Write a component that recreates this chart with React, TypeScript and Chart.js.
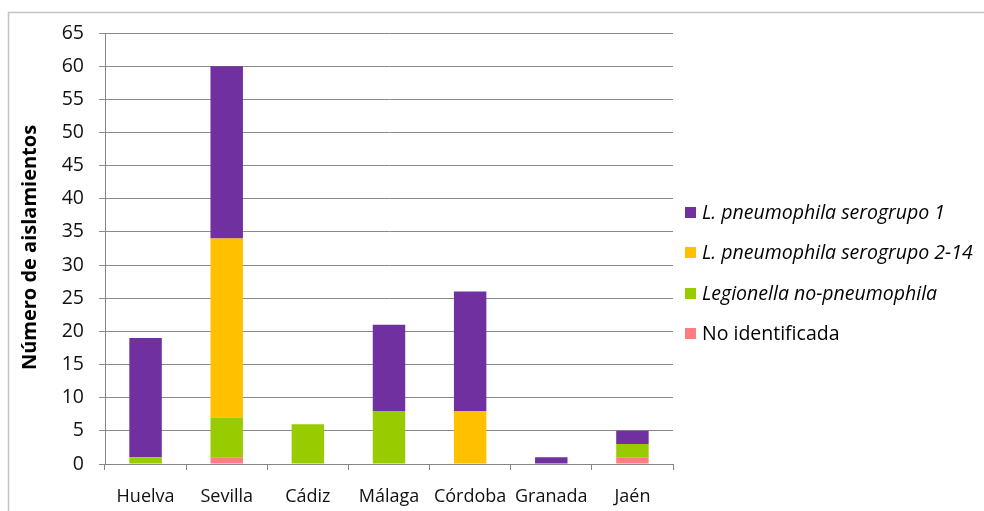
import { useEffect, useRef } from 'react';
import { Chart, registerables } from 'chart.js';

Chart.register(...registerables);

// Provinces on the category axis
const categories = ['Huelva', 'Sevilla', 'Cádiz', 'Málaga', 'Córdoba', 'Granada', 'Jaén'];

// Isolates per province, one array per group (stacked bottom to top)
const noIdentificada = [0, 1, 0, 0, 0, 0, 1];
const legionellaNoPneumophila = [1, 6, 6, 8, 0, 0, 2];
const serogrupo2a14 = [0, 27, 0, 0, 8, 0, 0];
const serogrupo1 = [18, 26, 0, 13, 18, 1, 2];

const seriesNames = [
  'No identificada',
  'Legionella no-pneumophila',
  'L. pneumophila serogrupo 2-14',
  'L. pneumophila serogrupo 1',
];
const seriesItalic = [false, true, true, true];
const seriesColors = ['#FF7C80', '#99CC00', '#FFC000', '#7030A0'];

const yAxisTitle = 'Número de aislamientos';
const yMin = 0;
const yMax = 65;
const yStep = 5;

const FONT = '"Open Sans", "Noto Sans", sans-serif';

const decorPlugin = {
  id: 'decor',
  beforeDraw(chart: any) {
    const ctx = chart.ctx;
    ctx.save();
    // outer frame (top and left edges visible)
    ctx.strokeStyle = '#c4c4c4';
    ctx.lineWidth = 1.5;
    ctx.beginPath();
    ctx.moveTo(8.5, chart.height);
    ctx.lineTo(8.5, 12.5);
    ctx.lineTo(chart.width, 12.5);
    ctx.stroke();
    ctx.restore();
  },
  afterDraw(chart: any) {
    const ctx = chart.ctx;
    const area = chart.chartArea;
    ctx.save();
    // rotated y-axis title
    ctx.translate(30, (area.top + area.bottom) / 2 - 1);
    ctx.rotate(-Math.PI / 2);
    ctx.fillStyle = '#000';
    ctx.font = `bold 20px ${FONT}`;
    ctx.textAlign = 'center';
    ctx.textBaseline = 'middle';
    ctx.fillText(yAxisTitle, 0, 0);
    ctx.restore();

    // legend, top series first
    ctx.save();
    const x0 = area.right + 12;
    const rowY = [212, 252, 293, 333];
    for (let i = 0; i < 4; i++) {
      const s = 3 - i;
      const y = rowY[i];
      ctx.fillStyle = seriesColors[s];
      ctx.fillRect(x0, y - 5, 11, 11);
      ctx.fillStyle = '#000';
      ctx.font = `${seriesItalic[s] ? 'italic ' : ''}19.5px ${FONT}`;
      ctx.textAlign = 'left';
      ctx.textBaseline = 'middle';
      ctx.fillText(seriesNames[s], x0 + 17, y + 1);
    }
    ctx.restore();
  },
};

export default function App() {
  const canvasRef = useRef<HTMLCanvasElement | null>(null);

  useEffect(() => {
    const canvas = canvasRef.current;
    if (!canvas) return;
    const seriesData = [noIdentificada, legionellaNoPneumophila, serogrupo2a14, serogrupo1];
    const chart = new Chart(canvas, {
      type: 'bar',
      data: {
        labels: categories,
        datasets: seriesData.map((d, i) => ({
          label: seriesNames[i],
          data: d,
          backgroundColor: seriesColors[i],
          borderWidth: 0,
          barPercentage: 0.4,
          categoryPercentage: 1,
        })),
      },
      options: {
        animation: false,
        responsive: true,
        maintainAspectRatio: false,
        layout: { padding: { left: 0, top: 33, right: 311, bottom: 0 } },
        plugins: {
          legend: { display: false },
          tooltip: { enabled: false },
        },
        scales: {
          x: {
            stacked: true,
            grid: {
              drawOnChartArea: false,
              drawTicks: true,
              tickLength: 6,
              color: '#868686',
              offset: true,
            },
            border: { color: '#868686', width: 1 },
            ticks: {
              color: '#111',
              font: { family: FONT, size: 18 },
              padding: 16,
            },
            afterFit: (s: any) => {
              s.height = 47;
            },
          },
          y: {
            stacked: true,
            min: yMin,
            max: yMax,
            grid: {
              color: '#8a8a8a',
              lineWidth: 1,
              tickLength: 6,
            },
            border: { color: '#868686', width: 1 },
            ticks: {
              stepSize: yStep,
              color: '#111',
              font: { family: FONT, size: 19.5 },
              padding: 15,
            },
            afterFit: (s: any) => {
              s.width = 105;
            },
          },
        },
      },
      plugins: [decorPlugin],
    });
    return () => chart.destroy();
  }, []);

  return (
    <div style={{ position: 'fixed', left: 0, top: 0, width: 984, height: 511, background: '#fff' }}>
      <canvas ref={canvasRef} />
    </div>
  );
}
